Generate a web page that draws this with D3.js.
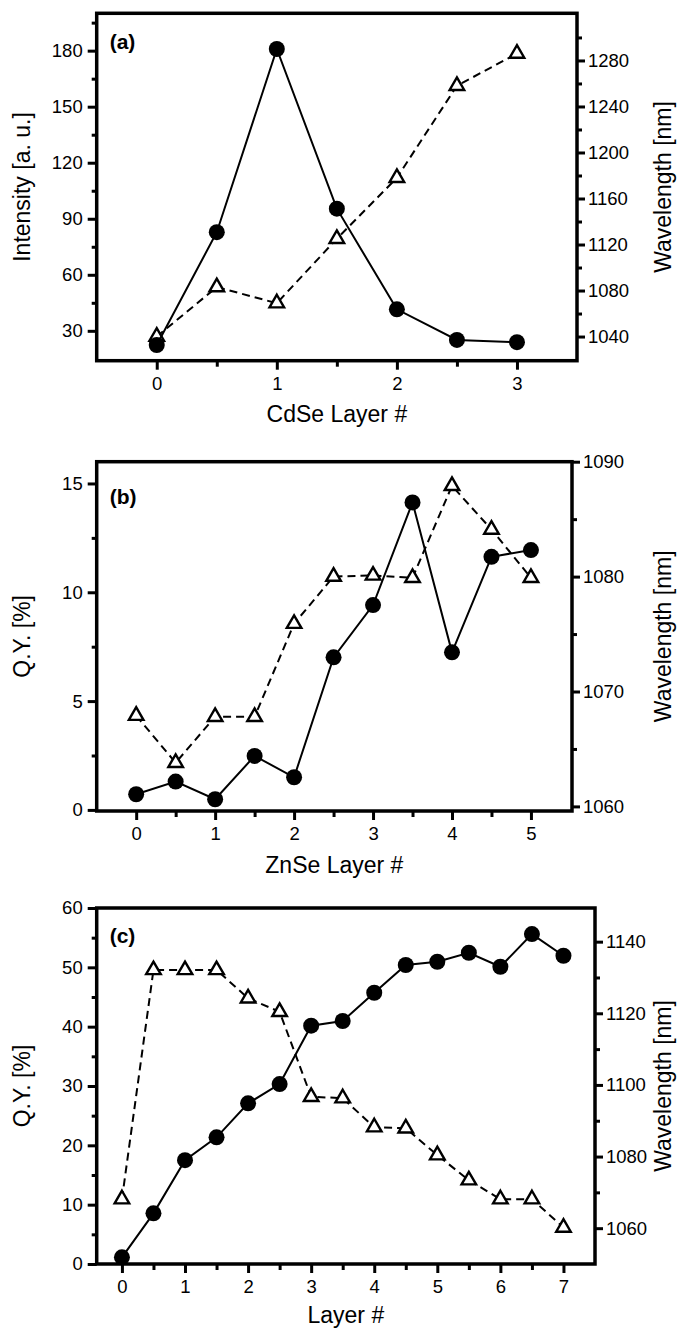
<!DOCTYPE html>
<html>
<head>
<meta charset="utf-8">
<script src="https://cdn.jsdelivr.net/npm/d3@7"></script>
<style>
  html, body { margin: 0; padding: 0; background: #fff; }
  svg { display: block; }
  text { font-family: "Liberation Sans", Arial, sans-serif; fill: #000; }
</style>
</head>
<body>
<svg id="chart" width="687" height="1328"></svg>
<script>
// ---- (a) CdSe shell series ----
const cdseLayers = [0, 0.5, 1, 1.5, 2, 2.5, 3];
const cdseIntensity = [22.4, 82.8, 180.9, 95.4, 41.5, 25.1, 23.9];
const cdseWavelength = [1040, 1083, 1069, 1125, 1178, 1258, 1286];
const cdseLeftTicks = [30, 60, 90, 120, 150, 180];
const cdseLeftMinor = [45, 75, 105, 135, 165, 195];
const cdseRightTicks = [1040, 1080, 1120, 1160, 1200, 1240, 1280];
const cdseRightMinor = [1060, 1100, 1140, 1180, 1220, 1260, 1300];
const cdseXTicks = [0, 1, 2, 3];
const cdseXMinor = [0.5, 1.5, 2.5];

// ---- (b) ZnSe shell series ----
const znseLayers = [0, 0.5, 1, 1.5, 2, 2.5, 3, 3.5, 4, 4.5, 5];
const znseQY = [0.72, 1.3, 0.49, 2.48, 1.5, 7.01, 9.41, 14.13, 7.24, 11.63, 11.94];
const znseWavelength = [1067.9, 1063.8, 1067.8, 1067.8, 1075.9, 1080.0, 1080.1, 1079.9, 1087.9, 1084.1, 1079.9];
const znseLeftTicks = [0, 5, 10, 15];
const znseLeftMinor = [2.5, 7.5, 12.5];
const znseRightTicks = [1060, 1070, 1080, 1090];
const znseRightMinor = [1065, 1075, 1085];
const znseXTicks = [0, 1, 2, 3, 4, 5];
const znseXMinor = [0.5, 1.5, 2.5, 3.5, 4.5];

// ---- (c) combined layer series ----
const layers = [0, 0.5, 1, 1.5, 2, 2.5, 3, 3.5, 4, 4.5, 5, 5.5, 6, 6.5, 7];
const layerQY = [1.13, 8.54, 17.5, 21.35, 27.08, 30.33, 40.16, 40.95, 45.72, 50.39, 50.94, 52.46, 50.1, 55.6, 51.95];
const layerWavelength = [1068.1, 1132.1, 1132.1, 1132.1, 1124.2, 1120.4, 1096.7, 1096.3, 1088.2, 1087.9, 1080.4, 1073.4, 1068.1, 1068.1, 1060.2];
const layerLeftTicks = [0, 10, 20, 30, 40, 50, 60];
const layerLeftMinor = [5, 15, 25, 35, 45, 55];
const layerRightTicks = [1060, 1080, 1100, 1120, 1140];
const layerRightMinor = [1070, 1090, 1110, 1130];
const layerXTicks = [0, 1, 2, 3, 4, 5, 6, 7];
const layerXMinor = [0.5, 1.5, 2.5, 3.5, 4.5, 5.5, 6.5];

const panels = [
  {
    tag: "(a)", box: { left: 96.7, right: 577, top: 13.3, bottom: 360.7 },
    x: cdseLayers, yL: cdseIntensity, yR: cdseWavelength,
    xDomain: [-0.5, 3.5], lDomain: [14, 200], rDomain: [1019, 1321],
    lTicks: cdseLeftTicks, lMinor: cdseLeftMinor,
    rTicks: cdseRightTicks, rMinor: cdseRightMinor,
    xTicks: cdseXTicks, xMinor: cdseXMinor,
    xTitle: "CdSe Layer #", lTitle: "Intensity [a. u.]", rTitle: "Wavelength [nm]",
    tagY: 49, xTitleY: 422
  },
  {
    tag: "(b)", box: { left: 96.7, right: 572, top: 461.7, bottom: 811 },
    x: znseLayers, yL: znseQY, yR: znseWavelength,
    xDomain: [-0.5, 5.52], lDomain: [-0.05, 16], rDomain: [1059.6, 1090],
    lTicks: znseLeftTicks, lMinor: znseLeftMinor,
    rTicks: znseRightTicks, rMinor: znseRightMinor,
    xTicks: znseXTicks, xMinor: znseXMinor,
    xTitle: "ZnSe Layer #", lTitle: "Q.Y. [%]", rTitle: "Wavelength [nm]",
    tagY: 504, xTitleY: 873
  },
  {
    tag: "(c)", box: { left: 96.7, right: 595, top: 908, bottom: 1264 },
    x: layers, yL: layerQY, yR: layerWavelength,
    xDomain: [-0.4, 7.5], lDomain: [0, 60], rDomain: [1050, 1149.4],
    lTicks: layerLeftTicks, lMinor: layerLeftMinor,
    rTicks: layerRightTicks, rMinor: layerRightMinor,
    xTicks: layerXTicks, xMinor: layerXMinor,
    xTitle: "Layer #", lTitle: "Q.Y. [%]", rTitle: "Wavelength [nm]",
    tagY: 943, xTitleY: 1323
  }
];

const svg = d3.select("#chart");

function styleAxis(g) {
  g.select(".domain").remove();
  g.selectAll(".tick line").attr("stroke", "#000").attr("stroke-width", 3);
  g.selectAll(".tick text").attr("font-size", 18.5).attr("fill", "#000");
}

panels.forEach(p => {
  const b = p.box;
  const g = svg.append("g");
  const x = d3.scaleLinear().domain(p.xDomain).range([b.left, b.right]);
  const yL = d3.scaleLinear().domain(p.lDomain).range([b.bottom, b.top]);
  const yR = d3.scaleLinear().domain(p.rDomain).range([b.bottom, b.top]);

  // minor ticks (unlabelled)
  g.append("g").attr("transform", `translate(0,${b.bottom})`)
    .call(d3.axisBottom(x).tickValues(p.xMinor).tickSize(6).tickFormat(""))
    .call(styleAxis);
  g.append("g").attr("transform", `translate(${b.left},0)`)
    .call(d3.axisLeft(yL).tickValues(p.lMinor).tickSize(5).tickFormat(""))
    .call(styleAxis);
  g.append("g").attr("transform", `translate(${b.right},0)`)
    .call(d3.axisRight(yR).tickValues(p.rMinor).tickSize(5).tickFormat(""))
    .call(styleAxis);

  // major ticks with labels
  g.append("g").attr("transform", `translate(0,${b.bottom})`)
    .call(d3.axisBottom(x).tickValues(p.xTicks).tickSize(9).tickPadding(7).tickFormat(d3.format("d")))
    .call(styleAxis);
  g.append("g").attr("transform", `translate(${b.left},0)`)
    .call(d3.axisLeft(yL).tickValues(p.lTicks).tickSize(9).tickPadding(5).tickFormat(d3.format("d")))
    .call(styleAxis);
  g.append("g").attr("transform", `translate(${b.right},0)`)
    .call(d3.axisRight(yR).tickValues(p.rTicks).tickSize(8).tickPadding(3).tickFormat(d3.format("d")))
    .call(styleAxis);

  // frame
  g.append("rect")
    .attr("x", b.left).attr("y", b.top)
    .attr("width", b.right - b.left).attr("height", b.bottom - b.top)
    .attr("fill", "none").attr("stroke", "#000").attr("stroke-width", 3.5);

  // wavelength series: dashed line with open triangles
  const wl = p.x.map((v, i) => [v, p.yR[i]]);
  g.append("path")
    .datum(wl)
    .attr("fill", "none").attr("stroke", "#000").attr("stroke-width", 2)
    .attr("stroke-dasharray", "8,5")
    .attr("d", d3.line().x(d => x(d[0])).y(d => yR(d[1])));
  g.selectAll(".tri").data(wl).enter().append("path")
    .attr("transform", d => `translate(${x(d[0])},${yR(d[1])})`)
    .attr("d", d3.symbol().type(d3.symbolTriangle).size(92))
    .attr("fill", "#fff").attr("stroke", "#000").attr("stroke-width", 2.4);

  // left-axis series: solid line with filled circles
  const ql = p.x.map((v, i) => [v, p.yL[i]]);
  g.append("path")
    .datum(ql)
    .attr("fill", "none").attr("stroke", "#000").attr("stroke-width", 2)
    .attr("d", d3.line().x(d => x(d[0])).y(d => yL(d[1])));
  g.selectAll(".dot").data(ql).enter().append("circle")
    .attr("cx", d => x(d[0])).attr("cy", d => yL(d[1])).attr("r", 8)
    .attr("fill", "#000");

  // panel tag
  g.append("text").attr("x", b.left + 13).attr("y", p.tagY)
    .attr("font-size", 21).attr("font-weight", "bold").text(p.tag);

  // axis titles
  const midY = (b.top + b.bottom) / 2;
  g.append("text")
    .attr("transform", `translate(${(b.left + b.right) / 2},${p.xTitleY})`)
    .attr("text-anchor", "middle").attr("font-size", 23).text(p.xTitle);
  g.append("text")
    .attr("transform", `translate(30,${midY}) rotate(-90)`)
    .attr("text-anchor", "middle").attr("font-size", 23).text(p.lTitle);
  g.append("text")
    .attr("transform", `translate(671,${midY}) rotate(-90)`)
    .attr("text-anchor", "middle").attr("font-size", 23).text(p.rTitle);
});
</script>
</body>
</html>
